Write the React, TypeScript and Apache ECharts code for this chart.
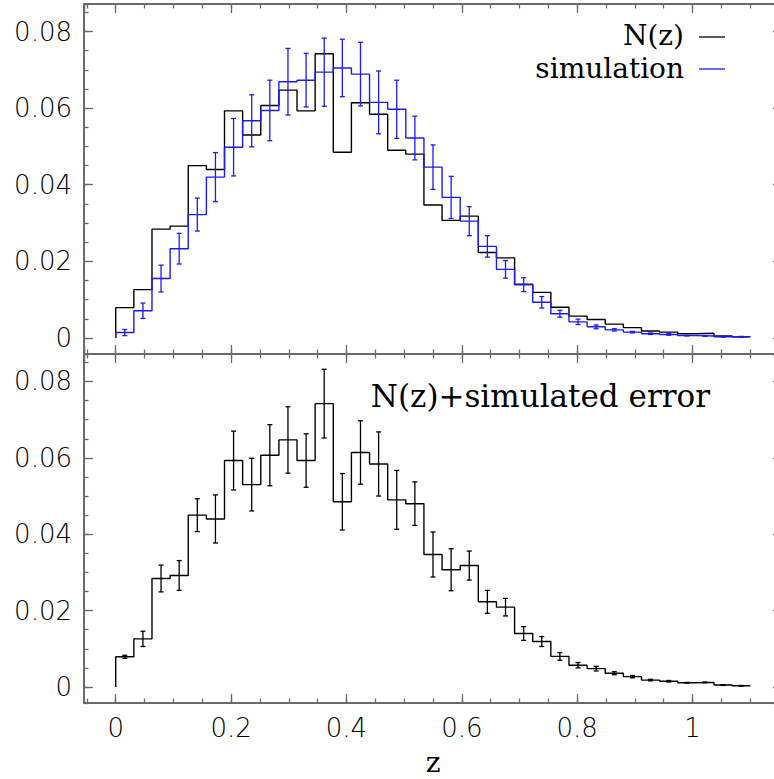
import React, { useEffect, useRef } from "react";
import * as echarts from "echarts";

// ---- data ----
const BIN_COUNT = 35;
const Z_MAX = 1.1;
const nzValues = [0.0079, 0.0126, 0.0284, 0.0292, 0.045, 0.044, 0.0593, 0.053, 0.0607, 0.0647, 0.0593, 0.0742, 0.0485, 0.0614, 0.0584, 0.049, 0.048, 0.0347, 0.0307, 0.0318, 0.0223, 0.0209, 0.014, 0.0119, 0.008, 0.0057, 0.0048, 0.0036, 0.0027, 0.0018, 0.0015, 0.0011, 0.0012, 0.0005, 0.0003];
const simValues = [0.0014, 0.0071, 0.0155, 0.0233, 0.0322, 0.042, 0.0498, 0.0567, 0.0594, 0.0669, 0.0673, 0.0694, 0.0705, 0.0689, 0.0615, 0.0597, 0.0522, 0.0446, 0.0367, 0.0305, 0.0239, 0.0179, 0.0139, 0.0093, 0.0063, 0.0042, 0.0029, 0.0021, 0.0015, 0.0011, 0.0009, 0.0006, 0.0005, 0.0003, 0.0003];
const simErrors = [0.0008, 0.002, 0.0035, 0.004, 0.0043, 0.0064, 0.0075, 0.0068, 0.0079, 0.0087, 0.007, 0.0089, 0.0075, 0.0083, 0.0082, 0.0076, 0.0057, 0.0058, 0.0055, 0.0038, 0.0028, 0.0023, 0.0018, 0.0015, 0.0009, 0.0007, 0.0005, 0.0003, 0.0002, 0.0002, 0.0002, 0.0001, 0.0001, 0.0001, 0.0001];
const nzErrors = [0.0004, 0.002, 0.0035, 0.0039, 0.0043, 0.0063, 0.0077, 0.0069, 0.008, 0.0087, 0.007, 0.009, 0.0074, 0.0083, 0.0084, 0.0077, 0.0057, 0.0059, 0.0055, 0.0038, 0.003, 0.0023, 0.0018, 0.0013, 0.001, 0.0007, 0.0006, 0.0004, 0.0003, 0.0002, 0.0002, 0.0001, 0.0001, 0.0001, 0.0001];
const X_RANGE = [-0.055, 1.155];
const Y_RANGE = [-0.0042, 0.0872];
const X_MAJOR = 0.2;
const X_MINOR = 0.05;
const Y_MAJOR = 0.02;
const Y_MINOR = 0.005;
const legendLabels = ["N(z)", "simulation"];
const bottomLabel = "N(z)+simulated error";
const xName = "z";

const BLACK = "#000000";
const BLUE = "#1a1aff";
const FRAME = "#6a6a6a";
const TICK_FONT = "DejaVu Sans";
const TEXT_FONT = "DejaVu Serif";

const binWidth = Z_MAX / BIN_COUNT;

function stepData(vals: number[]) {
  const pts: number[][] = [[0, 0]];
  vals.forEach((v, i) => pts.push([i * binWidth, v]));
  pts.push([Z_MAX, vals[vals.length - 1]]);
  return pts;
}

function errData(vals: number[], errs: number[]) {
  return vals.map((v, i) => [(i + 0.5) * binWidth, v, errs[i]]);
}

function makeErrRender(color: string) {
  return (params: any, api: any) => {
    const x = api.value(0);
    const v = api.value(1);
    const e = api.value(2);
    const top = api.coord([x, v + e]);
    const bot = api.coord([x, v - e]);
    const hw = 2.5;
    const style = { stroke: color, lineWidth: 1.3, fill: null };
    return {
      type: "group",
      children: [
        { type: "line", shape: { x1: top[0], y1: top[1], x2: bot[0], y2: bot[1] }, style },
        { type: "line", shape: { x1: top[0] - hw, y1: top[1], x2: top[0] + hw, y2: top[1] }, style },
        { type: "line", shape: { x1: bot[0] - hw, y1: bot[1], x2: bot[0] + hw, y2: bot[1] }, style },
      ],
    };
  };
}

const labelStyle = {
  margin: 12,
  color: "#000",
  fontFamily: TICK_FONT,
  fontSize: 26,
  fontWeight: 200,
  showMinLabel: false,
  showMaxLabel: false,
};

function xAxesFor(gridIndex: number, labeled: boolean) {
  const common = {
    type: "value",
    gridIndex,
    min: X_RANGE[0],
    max: X_RANGE[1],
    splitLine: { show: false },
  };
  const major = (position: string, showLabel: boolean) => ({
    ...common,
    position,
    minInterval: X_MAJOR,
    maxInterval: X_MAJOR,
    axisLine: { show: true, onZero: false, lineStyle: { color: FRAME, width: 2 } },
    axisTick: { show: true, inside: true, length: 9, lineStyle: { color: FRAME, width: 1.3 } },
    axisLabel: { ...labelStyle, show: showLabel },
  });
  const minor = (position: string) => ({
    ...common,
    position,
    minInterval: X_MINOR,
    maxInterval: X_MINOR,
    axisLine: { show: false, onZero: false },
    axisTick: { show: true, inside: true, length: 4.5, lineStyle: { color: FRAME, width: 1.3 } },
    axisLabel: { show: false },
  });
  return [major("bottom", labeled), major("top", false), minor("bottom"), minor("top")];
}

function yAxesFor(gridIndex: number) {
  const common = {
    type: "value",
    gridIndex,
    min: Y_RANGE[0],
    max: Y_RANGE[1],
    splitLine: { show: false },
  };
  const major = (position: string, showLabel: boolean) => ({
    ...common,
    position,
    minInterval: Y_MAJOR,
    maxInterval: Y_MAJOR,
    axisLine: { show: true, onZero: false, lineStyle: { color: FRAME, width: 2 } },
    axisTick: { show: true, inside: true, length: 9, lineStyle: { color: FRAME, width: 1.3 } },
    axisLabel: { ...labelStyle, show: showLabel },
  });
  const minor = (position: string) => ({
    ...common,
    position,
    minInterval: Y_MINOR,
    maxInterval: Y_MINOR,
    axisLine: { show: false, onZero: false },
    axisTick: { show: true, inside: true, length: 4.5, lineStyle: { color: FRAME, width: 1.3 } },
    axisLabel: { show: false },
  });
  return [major("left", true), major("right", false), minor("left"), minor("right")];
}

function textEl(text: string, x: number, y: number, size: number, align: string) {
  return {
    type: "text",
    x,
    y,
    style: {
      text,
      font: `${size}px "${TEXT_FONT}"`,
      fill: "#000",
      align,
      verticalAlign: "middle",
      textAlign: align,
      textVerticalAlign: "middle",
    },
  };
}

export default function App() {
  const ref = useRef<HTMLDivElement>(null);
  useEffect(() => {
    if (!ref.current) return;
    const chart = echarts.init(ref.current, null, { renderer: "svg" });
    const option: any = {
      animation: false,
      backgroundColor: "#ffffff",
      grid: [
        { left: 84, right: -8, top: 4, height: 350, outerBoundsMode: "none", containLabel: false },
        { left: 84, right: -8, top: 354, height: 349, outerBoundsMode: "none", containLabel: false },
      ],
      xAxis: [...xAxesFor(0, false), ...xAxesFor(1, true)],
      yAxis: [...yAxesFor(0), ...yAxesFor(1)],
      series: [
        {
          name: legendLabels[0],
          type: "line",
          xAxisIndex: 0,
          yAxisIndex: 0,
          step: "end",
          symbol: "none",
          data: stepData(nzValues),
          lineStyle: { color: BLACK, width: 1.4 },
          z: 3,
        },
        {
          name: legendLabels[1],
          type: "line",
          xAxisIndex: 0,
          yAxisIndex: 0,
          step: "end",
          symbol: "none",
          data: stepData(simValues),
          lineStyle: { color: BLUE, width: 1.4 },
          z: 4,
        },
        {
          name: "simulation error",
          type: "custom",
          xAxisIndex: 0,
          yAxisIndex: 0,
          renderItem: makeErrRender(BLUE),
          encode: { x: 0, y: 1 },
          data: errData(simValues, simErrors),
          z: 5,
        },
        {
          name: bottomLabel,
          type: "line",
          xAxisIndex: 4,
          yAxisIndex: 4,
          step: "end",
          symbol: "none",
          data: stepData(nzValues),
          lineStyle: { color: BLACK, width: 1.4 },
          z: 3,
        },
        {
          name: "N(z) error",
          type: "custom",
          xAxisIndex: 4,
          yAxisIndex: 4,
          renderItem: makeErrRender(BLACK),
          encode: { x: 0, y: 1 },
          data: errData(nzValues, nzErrors),
          z: 5,
        },
      ],
      graphic: [
        textEl(legendLabels[0], 684, 35, 28, "right"),
        textEl(legendLabels[1], 684, 68, 28, "right"),
        {
          type: "line",
          shape: { x1: 699, y1: 37, x2: 725, y2: 37 },
          style: { stroke: BLACK, lineWidth: 1.3 },
        },
        {
          type: "line",
          shape: { x1: 699, y1: 69, x2: 725, y2: 69 },
          style: { stroke: BLUE, lineWidth: 1.3 },
        },
        textEl(bottomLabel, 710, 396, 31, "right"),
        textEl(xName, 433, 762, 28, "center"),
      ],
    };
    chart.setOption(option);
    return () => chart.dispose();
  }, []);
  return (
    <div
      ref={ref}
      style={{ position: "fixed", left: 0, top: 0, width: 774, height: 779, background: "#fff" }}
    />
  );
}
